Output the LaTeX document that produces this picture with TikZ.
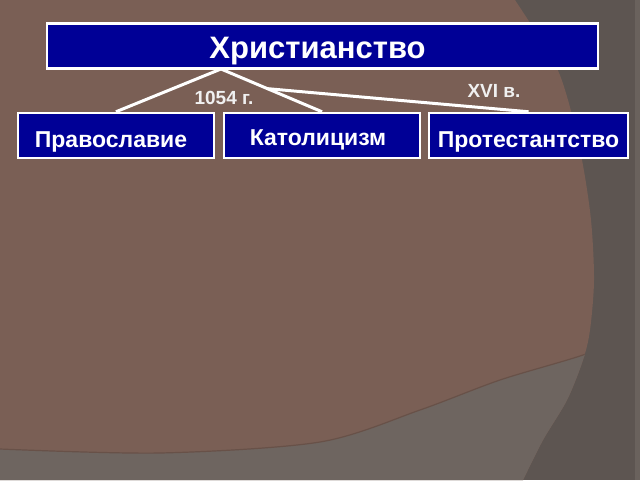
\documentclass[tikz,border=0pt]{standalone}
\usepackage{fontspec}
\setmainfont{Liberation Sans}
\usetikzlibrary{calc}
\definecolor{slidebrown}{HTML}{7A5F55}
\definecolor{slidegray}{HTML}{5D5551}
\definecolor{slideband}{HTML}{6E6560}
\definecolor{slideedge}{HTML}{6A625D}
\definecolor{boxblue}{HTML}{000096}
\tikzstyle{term}=[
	rectangle,
	draw=white,
	line width=2.5pt,
	fill=boxblue,
	text=white,
	inner sep=0pt,
	text depth=0pt,
	minimum height=45pt
]
\tikzstyle{split}=[
	draw=white,
	line width=3pt
]
\tikzstyle{period}=[
	text=white!94!black,
	font=\bfseries\fontsize{19}{21}\selectfont,
	inner sep=0pt
]

\begin{document}
\begin{tikzpicture}[x=1pt,y=-1pt]
\useasboundingbox (0,0) rectangle (640,480);
% background of the slide
\fill[slidegray] (0,0) rectangle (640,480);
\fill[slidebrown] (0,0) -- plot[smooth] coordinates {(515,0) (553,60) (568,100) (582,160) (591,220) (594,280) (590,330) (583,360) (567,400) (543,440) (523,480)} -- (0,480) -- cycle;
\begin{scope}
\clip (0,0) -- plot[smooth] coordinates {(515,0) (553,60) (568,100) (582,160) (591,220) (594,280) (590,330) (583,360) (567,400) (543,440) (523,480)} -- (0,480) -- cycle;
\fill[slideband] plot[smooth] coordinates {(0,449) (160,453) (320,442) (420,410) (500,380) (583,355) (640,332)} -- (640,480) -- (0,480) -- cycle;
\draw[slidebrown!85!black, line width=1.2pt] plot[smooth] coordinates {(0,449) (160,453) (320,442) (420,410) (500,380) (583,355) (640,332)};
\end{scope}
\fill[slideedge] (635,0) rectangle (640,480);

% terms
\node [term, minimum width=551pt, text height=24pt, font=\bfseries\fontsize{31}{34}\selectfont] (Christianity) at (322.5,46) {\hspace*{-10pt}Христианство};
\node [term, minimum width=196pt, text height=23pt, font=\bfseries\fontsize{23}{26}\selectfont] (Orthodoxy) at (116,135.5) {\hspace*{-10pt}Православие};
\node [term, minimum width=196pt, text height=23pt, font=\bfseries\fontsize{23}{26}\selectfont] (Catholicism) at (322,135.5) {\hspace*{-8pt}\raisebox{1.5pt}{Католицизм}};
\node [term, minimum width=199pt, text height=23pt, font=\bfseries\fontsize{23}{26}\selectfont] (Protestantism) at (528.5,135.5) {Протестантство};

% splits
\coordinate (fork) at (221,69);
\coordinate (schism) at ($(fork)!0.46!(Catholicism.north)$);
\draw [split] (fork) -- (Orthodoxy.north);
\draw [split] (fork) -- (Catholicism.north);
\draw [split] (schism) -- (Protestantism.north);
\node [period] (year) at (224,98) {1054 г.};
\node [period] (century) at (494,91) {XVI в.};
\end{tikzpicture}
\end{document}
